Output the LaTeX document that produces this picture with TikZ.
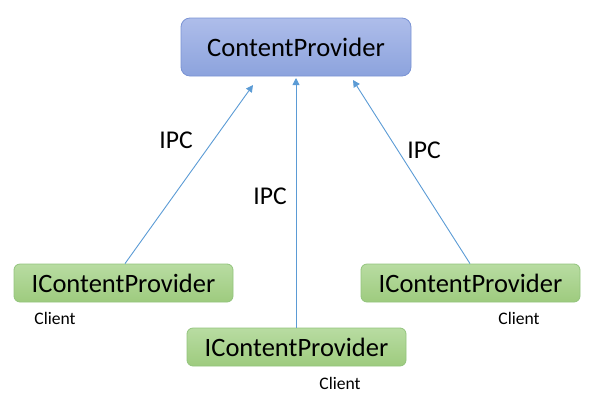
\documentclass[tikz,border=0pt]{standalone}
\usepackage{fontspec}
\setmainfont{Carlito}
\usetikzlibrary{arrows.meta}
\definecolor{topfillA}{HTML}{AEBDEA}
\definecolor{topfillB}{HTML}{8CA3DD}
\definecolor{topdraw}{HTML}{7A93D4}
\definecolor{greenA}{HTML}{B8DCA2}
\definecolor{greenB}{HTML}{9ECB7E}
\definecolor{greendraw}{HTML}{93C47D}
\definecolor{arrowblue}{HTML}{5B9BD5}
\tikzset{
  topbox/.style={draw=topdraw, line width=0.8pt, rounded corners=9pt, top color=topfillA, bottom color=topfillB, minimum width=230pt, minimum height=58pt, font=\fontsize{26.6}{30}\selectfont, inner sep=0pt},
  clientbox/.style={draw=greendraw, line width=0.8pt, rounded corners=6pt, top color=greenA, bottom color=greenB, minimum width=219pt, minimum height=38pt, font=\fontsize{26.5}{30}\selectfont, inner sep=0pt},
  ipc/.style={font=\fontsize{25.6}{28}\selectfont},
  clientlbl/.style={font=\fontsize{17.6}{20}\selectfont},
  conn/.style={draw=arrowblue, line width=0.9pt, -{Triangle[length=7pt,width=7pt]}}
}
\begin{document}
\begin{tikzpicture}[x=1pt,y=-1pt]
\useasboundingbox (0,0) rectangle (600,400);
\node[topbox] (cp) at (296,47) {ContentProvider};
\node[clientbox] (c1) at (123.5,283) {IContentProvider};
\node[clientbox] (c2) at (296.5,347) {IContentProvider};
\node[clientbox] (c3) at (470.5,283) {IContentProvider};
\coordinate (t1) at (253,85);
\coordinate (t2) at (296,78);
\coordinate (t3) at (353,80);
\draw[conn] (c1.north -| 125,0) -- (t1);
\draw[conn] (c2.north -| 296,0) -- (t2);
\draw[conn] (c3.north -| 470,0) -- (t3);
\node[ipc] (ipc1) at (176,140) {IPC};
\node[ipc] (ipc2) at (270,196) {IPC};
\node[ipc] (ipc3) at (424,150) {IPC};
\node[clientlbl] (l1) at (55,318) {Client};
\node[clientlbl] (l2) at (340,383) {Client};
\node[clientlbl] (l3) at (519,318) {Client};
\end{tikzpicture}
\end{document}
